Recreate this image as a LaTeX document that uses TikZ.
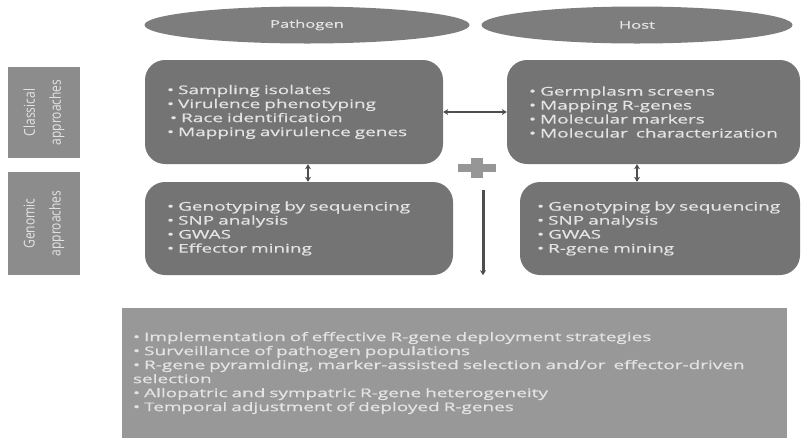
\documentclass[tikz,border=0pt]{standalone}
\usepackage{fontspec}
\setmainfont{Open Sans}[FakeStretch=1.58,FakeBold=0.5]
\newfontfamily\narrowfont{Open Sans}[FakeStretch=0.8]
\newcommand\wordgap{\spaceskip=6pt\relax\hyphenpenalty=10000\relax}
\usetikzlibrary{shapes.geometric,arrows.meta}
\definecolor{ovalgray}{RGB}{125,125,125}
\definecolor{cardgray}{RGB}{116,116,116}
\definecolor{sidegray}{RGB}{140,140,140}
\definecolor{basegray}{RGB}{152,152,152}
\definecolor{inkgray}{RGB}{228,228,228}
\definecolor{arrowgray}{RGB}{78,78,78}
\definecolor{plusgray}{RGB}{150,150,150}
\begin{document}
\begin{tikzpicture}[x=1pt,y=-1pt,>={Stealth[length=5pt,width=6pt]},
    oval/.style={ellipse,fill=ovalgray,text=inkgray,inner sep=0pt,font=\fontsize{10.5}{13}\selectfont},
    sidebox/.style={fill=sidegray,text=inkgray,inner sep=0pt,minimum height=72pt,align=center,font=\narrowfont\fontsize{15}{26}\selectfont},
    card/.style={rounded corners=20pt,fill=cardgray,text=inkgray,align=left,inner xsep=22pt,inner ysep=0pt,font=\fontsize{12}{14}\selectfont\wordgap},
    link/.style={<->,line width=1.6pt,draw=arrowgray}]
\useasboundingbox (0,0) rectangle (801,440);
% ovals on top
\node[oval,minimum width=325pt,minimum height=37pt] (pathogen) at (307,25) {Pathogen};
\node[oval,minimum width=311pt,minimum height=37pt] (host) at (637,25) {Host};
% side labels
\node[sidebox,minimum width=91pt,rotate=90] (classical) at (44,112.5) {Classical\\approaches};
\node[sidebox,minimum width=103pt,rotate=90] (genomic) at (44,223.5) {Genomic\\approaches};
% pathogen boxes
\node[card,text width=254pt,minimum height=104pt] (pclass) at (294,112) {%
  • Sampling isolates\\
  • Virulence phenotyping\\
  \hspace{3pt}• Race identification\\
  • Mapping avirulence genes};
\node[card,text width=264pt,minimum height=93pt] (pgen) at (299,228.5) {%
  • Genotyping by sequencing\\
  • SNP analysis\\
  • GWAS\\
  • Effector mining};
% host boxes
\node[card,text width=249pt,minimum height=104pt] (hclass) at (653.5,112) {%
  • Germplasm screens\\
  • Mapping R-genes\\
  • Molecular markers\\
  • Molecular\ \ characterization};
\node[card,inner xsep=17pt,text width=246pt,minimum height=93pt] (hgen) at (660,228.5) {%
  • Genotyping by sequencing\\
  • SNP analysis\\
  • GWAS\\
  • R-gene mining};
% outcome box
\node[fill=basegray,text=inkgray,align=left,inner xsep=11pt,inner ysep=0pt,text width=643pt,minimum height=130pt,font=\fontsize{12}{14}\selectfont\wordgap] (outcome) at (454.5,373) {%
  • Implementation of effective R-gene deployment strategies\\
  • Surveillance of pathogen populations\\
  • R-gene pyramiding, marker-assisted selection and/or\ \ effector-driven\\
  selection\\
  • Allopatric and sympatric R-gene heterogeneity\\
  • Temporal adjustment of deployed R-genes};
% plus sign
\node[fill=plusgray,minimum width=38pt,minimum height=8pt,inner sep=0pt] (plusbar) at (477,168) {};
\node[fill=plusgray,minimum width=12pt,minimum height=20pt,inner sep=0pt] (plusstem) at (477,168) {};
% connectors
\coordinate (flowtop) at (483,190);
\draw[link] (pclass.east) -- (hclass.west);
\draw[link] (pclass.south -| 308,0) -- (pgen.north -| 308,0);
\draw[link] (hclass.south -| 637,0) -- (hgen.north -| 637,0);
\draw[->,line width=3pt,draw=arrowgray] (flowtop) -- (flowtop |- pgen.south);
\end{tikzpicture}
\end{document}
